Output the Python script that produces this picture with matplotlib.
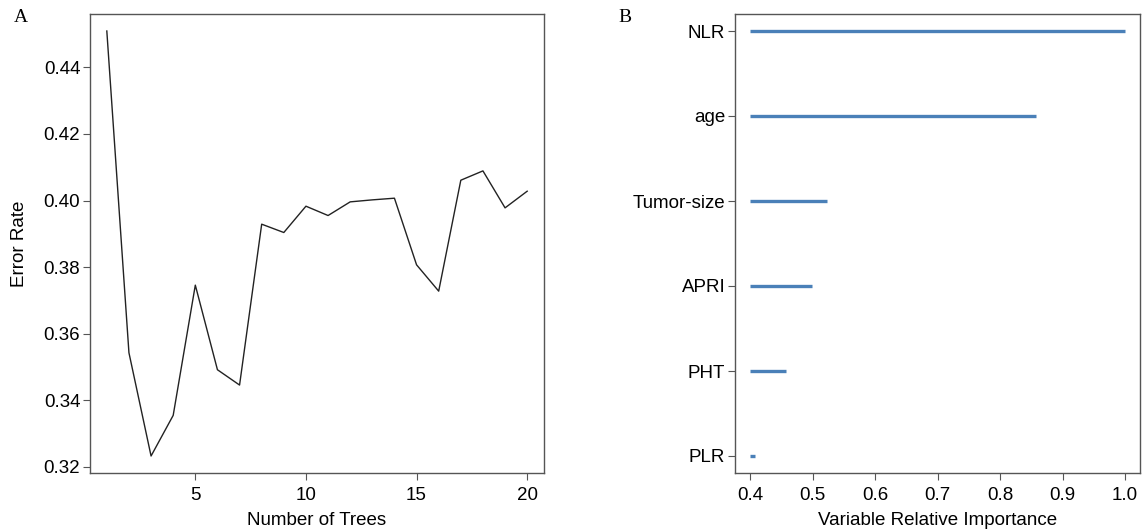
import numpy as np
import matplotlib
matplotlib.use("Agg")
from matplotlib import pyplot as plt

plt.rcParams['font.family'] = ['Liberation Sans', 'DejaVu Sans']

# panel A: error rate vs number of trees
n_trees = list(range(1, 21))
error_rate = [0.4509, 0.3543, 0.3233, 0.3355, 0.3746, 0.3492, 0.3446, 0.3929,
              0.3904, 0.3983, 0.3955, 0.3996, 0.4002, 0.4007, 0.3807, 0.3728,
              0.4061, 0.4089, 0.3978, 0.4028]

# panel B: variable relative importance
variables = ['NLR', 'age', 'Tumor-size', 'APRI', 'PHT', 'PLR']
importance = [1.0, 0.8577, 0.5238, 0.4996, 0.4576, 0.4075]

fig = plt.figure(figsize=(11.47, 5.32), dpi=100)
W, H = 1147, 532
axA = fig.add_axes([90 / W, 1 - 473 / H, (544 - 90) / W, (473 - 14) / H])
axB = fig.add_axes([735 / W, 1 - 473 / H, (1140 - 735) / W, (473 - 14) / H])

frame_col = '#555555'
fs = 13.5

axA.plot(n_trees, error_rate, color='#222222', lw=1.0)
axA.margins(x=0.04, y=0.04)
axA.set_xticks([5, 10, 15, 20])
axA.set_yticks([0.32, 0.34, 0.36, 0.38, 0.40, 0.42, 0.44])
axA.set_yticklabels(['%.2f' % v for v in [0.32, 0.34, 0.36, 0.38, 0.40, 0.42, 0.44]])
axA.set_xlabel('Number of Trees', fontsize=fs, labelpad=6)
axA.set_ylabel('Error Rate', fontsize=fs, labelpad=11)

ypos = np.arange(len(variables))[::-1]
axB.hlines(ypos, 0.4, importance, color='#4a80b8', lw=2.4)
axB.set_xlim(0.4 - 0.024, 1.0 + 0.024)
axB.set_ylim(-0.2, len(variables) - 0.8)
axB.set_yticks(ypos)
axB.set_yticklabels(variables)
axB.set_xticks([0.4, 0.5, 0.6, 0.7, 0.8, 0.9, 1.0])
axB.set_xticklabels(['%.1f' % v for v in [0.4, 0.5, 0.6, 0.7, 0.8, 0.9, 1.0]])
axB.set_xlabel('Variable Relative Importance', fontsize=fs, labelpad=6)

for ax in (axA, axB):
    for s in ax.spines.values():
        s.set_color(frame_col)
        s.set_linewidth(1.0)
    ax.tick_params(direction='out', length=5, width=0.8, color=frame_col,
                   labelsize=fs, pad=2)
    ax.tick_params(axis='x', pad=5)

fig.text(14 / W, 1 - 17 / H, 'A', family=['Liberation Serif', 'DejaVu Serif'],
         fontsize=14, va='center', ha='left')
fig.text(618 / W, 1 - 17 / H, 'B', family=['Liberation Serif', 'DejaVu Serif'],
         fontsize=14, va='center', ha='left')

fig.savefig('out.png', dpi=100, facecolor='white')
